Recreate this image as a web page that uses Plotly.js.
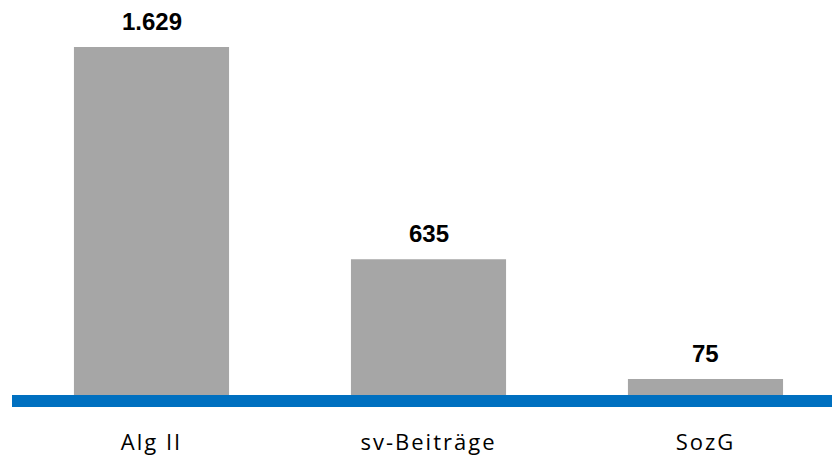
<!DOCTYPE html>
<html>
<head>
<meta charset="utf-8">
<script src="https://cdn.plot.ly/plotly-3.0.1.min.js"></script>
<style>
html, body { margin: 0; padding: 0; background: #fff; }
#chart { width: 832px; height: 460px; }
.xtick text { letter-spacing: 2px; }
</style>
</head>
<body>
<div id="chart"></div>
<script>
const categories = ["Alg II", "sv-Beiträge", "SozG"];
const values = [1629, 635, 75];

function fmtDe(v) {
  return String(v).replace(/\B(?=(\d{3})+(?!\d))/g, ".");
}

const trace = {
  type: "bar",
  x: categories,
  y: values,
  marker: { color: "#a6a6a6", line: { width: 0 } },
  width: 0.56,
  hoverinfo: "none"
};

const annotations = categories.map((c, i) => ({
  x: c,
  y: values[i],
  xref: "x",
  yref: "y",
  text: fmtDe(values[i]),
  showarrow: false,
  yanchor: "bottom",
  yshift: 10,
  font: { family: "Liberation Sans, Arial, sans-serif", size: 24, color: "#000", weight: "bold" }
}));

const layout = {
  width: 832,
  height: 460,
  margin: { l: 12, r: 0, t: 0, b: 53 },
  paper_bgcolor: "#fff",
  plot_bgcolor: "#fff",
  showlegend: false,
  xaxis: {
    type: "category",
    range: [-0.5036, 2.4567],
    showgrid: false,
    zeroline: false,
    showline: false,
    ticks: "",
    ticklabelstandoff: 20,
    tickfont: { family: "Open Sans, sans-serif", size: 22, color: "#000" },
    fixedrange: true
  },
  yaxis: {
    range: [-56.2, 1849],
    showgrid: false,
    zeroline: false,
    showline: false,
    showticklabels: false,
    ticks: "",
    fixedrange: true
  },
  shapes: [{
    type: "rect",
    xref: "paper",
    yref: "y",
    x0: 0,
    x1: 1,
    ysizemode: "pixel",
    yanchor: 0,
    y0: 0,
    y1: -12,
    fillcolor: "#0070c0",
    line: { width: 0 },
    layer: "above"
  }],
  annotations: annotations
};

Plotly.newPlot("chart", [trace], layout, { displayModeBar: false, staticPlot: true });
</script>
</body>
</html>
